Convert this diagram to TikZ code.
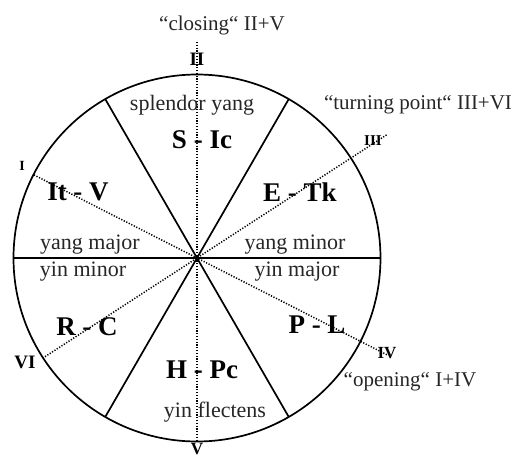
\documentclass[tikz,border=0pt]{standalone}
\usepackage{fontspec}
\setmainfont{Liberation Serif}
\usetikzlibrary{calc}

\begin{document}
\begin{tikzpicture}[x=1pt, y=1pt,
   spoke/.style={draw=black, line width=1.7},
   axisline/.style={draw=black, line width=1.5, dash pattern=on 1.2pt off 1.6pt},
   pair/.style={font=\fontsize{27}{30}\selectfont\bfseries, inner sep=0},
   phase/.style={font=\fontsize{22}{24}\selectfont, text=black!85, inner sep=0},
   note/.style={font=\fontsize{21}{24}\selectfont, text=black!85, inner sep=0},
   numeral/.style={font=\fontsize{19}{21}\selectfont\bfseries, inner sep=0}
  ]

  \useasboundingbox (-197, -201) rectangle (323, 258);

  \coordinate (O) at (0, 0);
  \foreach \a in {0, 60, ..., 300} {
    \coordinate (S\a) at (\a:183.5);
  }

  % dotted axes
  \coordinate (Top) at (0, 216);
  \coordinate (Bot) at (0, -182);
  \coordinate (EndI) at (153:183);
  \coordinate (EndIV) at (-27:214);
  \coordinate (EndIII) at (33:226);
  \coordinate (EndVI) at (213:183);
  \foreach \B/\E in {Top/Bot, EndI/EndIV, EndIII/EndVI} {
    \draw[axisline] (\B) -- (\E);
  }

  % wheel
  \draw[spoke] (O) circle (183.5);
  \foreach \B/\E in {S0/S180, S60/S240, S120/S300} {
    \draw[spoke] (\B) -- (\E);
  }

  % numerals
  \node (nII) at (0, 199) [numeral] {II};
  \node (nV) at (0, -191) [numeral, font=\fontsize{17}{19}\selectfont\bfseries] {V};
  \node (nI) at (-175, 92) [numeral, font=\fontsize{14}{16}\selectfont\bfseries] {I};
  \node (nIII) at (176, 117) [numeral, font=\fontsize{15}{17}\selectfont\bfseries] {III};
  \node (nIV) at (190, -95) [numeral, font=\fontsize{17}{19}\selectfont\bfseries] {IV};
  \node (nVI) at (-172, -104) [numeral] {VI};

  % outer notes
  \node (closing) at (25, 233) [note] {“closing“ II+V};
  \node (turning) at (221, 153) [note] {“turning point“ III+VI};
  \node (opening) at (213, -124) [note] {“opening“ I+IV};

  % sectors
  \node (splendor) at (-5, 153) [phase] {splendor yang};
  \node (SIc) at (5, 118) [pair] {S - Ic};
  \node (ItV) at (-119, 66) [pair] {It - V};
  \node (ETk) at (103, 66) [pair] {E - Tk};
  \node (yangmaj) at (-107, 13) [phase] {yang major};
  \node (yinmin) at (-114, -14) [phase] {yin minor};
  \node (yangmin) at (98, 13) [phase] {yang minor};
  \node (yinmaj) at (100, -14) [phase] {yin major};
  \node (RC) at (-110, -69) [pair] {R - C};
  \node (PL) at (120, -67) [pair] {P - L};
  \node (HPc) at (5, -112) [pair] {H - Pc};
  \node (flectens) at (18, -154) [phase] {yin flectens};

\end{tikzpicture}
\end{document}
